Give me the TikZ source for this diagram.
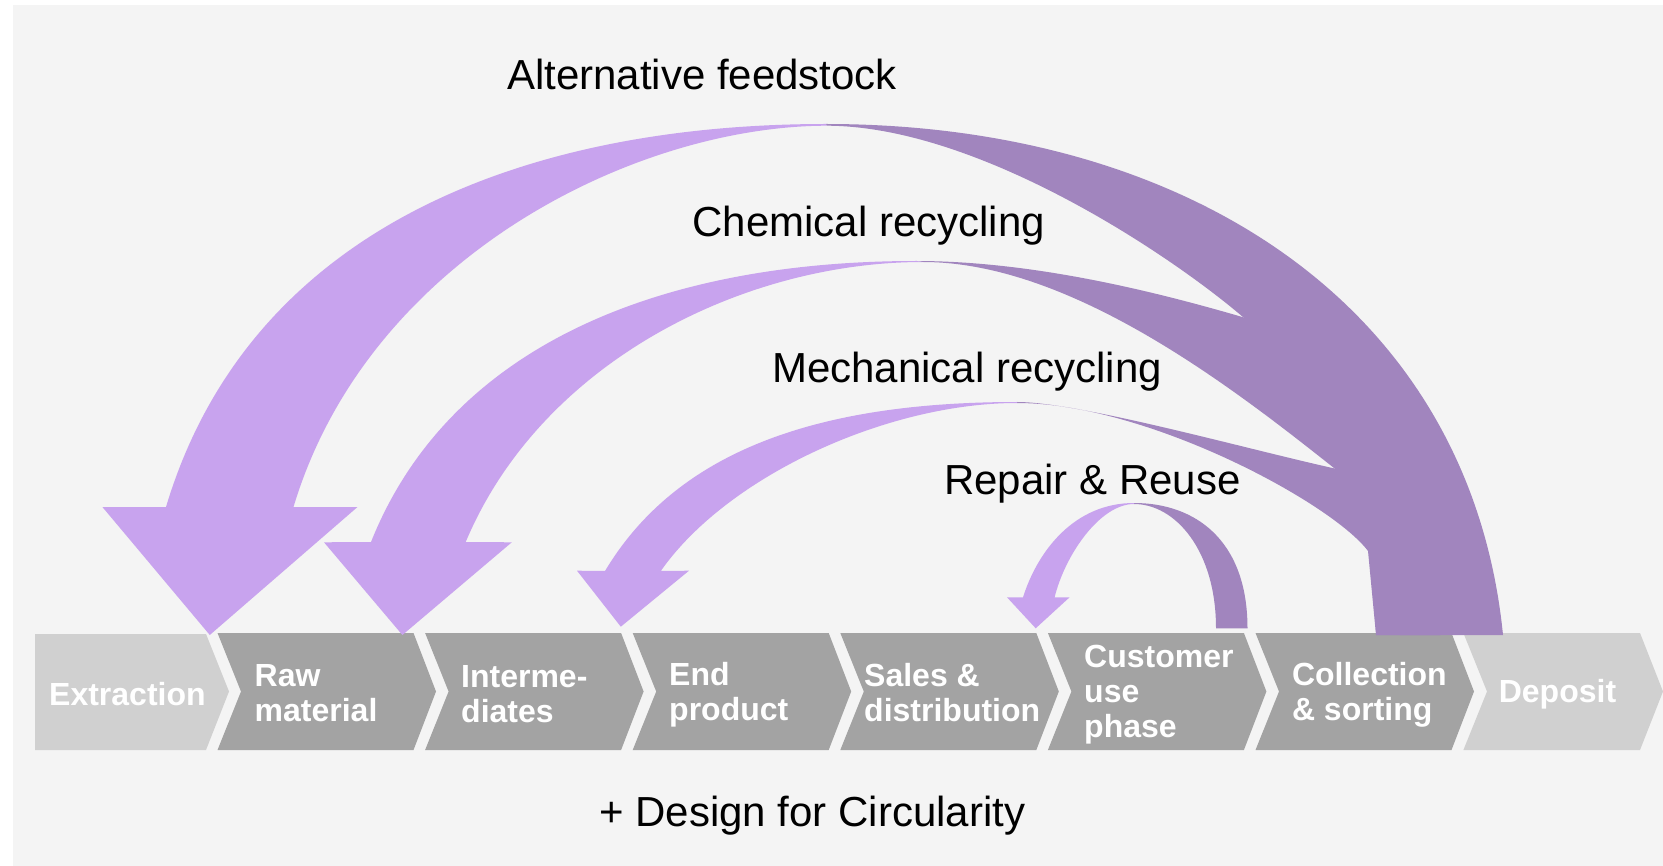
\documentclass[tikz,border=0pt]{standalone}
\usepackage{fontspec}
\setmainfont{Liberation Sans}
\definecolor{bgc}{RGB}{244,244,244}
\definecolor{chevmid}{RGB}{163,163,163}
\definecolor{chevlight}{RGB}{208,208,208}
\definecolor{lp}{RGB}{200,163,238}
\definecolor{dp}{RGB}{161,133,190}
\begin{document}
\begin{tikzpicture}[x=1pt,y=-1pt,
  lbl/.style={font=\fontsize{42}{48}\selectfont, text=black, inner sep=0pt, anchor=base},
  chevlbl/.style={font=\fontsize{32}{35}\selectfont\bfseries, text=white, align=left, anchor=west, inner sep=0pt},
  lighthalf/.style={fill=lp},
  darkhalf/.style={fill=dp},
  midchev/.style={fill=chevmid},
  endchev/.style={fill=chevlight}
]
\useasboundingbox (0,0) rectangle (1663,866);
\fill[white] (0,0) rectangle (1663,866);
\fill[bgc] (13,5) rectangle (1663,866);

% chevrons
\fill[endchev] (35,634) -- (206,634) -- (229,691.5) -- (206,750) -- (35,750) -- cycle;
\foreach \i in {0,...,5} {
  \pgfmathsetmacro\L{217.5+207.6*\i}
  \fill[midchev] (\L,633) -- ++(196,0) -- ++(22.5,58.5) -- ++(-22.5,58.5) -- ++(-196,0) -- ++(23.5,-58.5) -- cycle;
}
\fill[endchev] (1463.4,633) -- (1640,633) -- (1663,691.5) -- (1640,750) -- (1463.4,750) -- (1487,691.5) -- cycle;

\node[chevlbl] (ext) at (49,694) {Extraction};
\node[chevlbl] (raw) at (254.5,693) {Raw\\material};
\node[chevlbl] (int) at (461,694) {Interme-\\diates};
\node[chevlbl] (end) at (669,694.5) {End\\product};
\node[chevlbl] (sal) at (864,693) {Sales \&\\distribution};
\node[chevlbl] (cus) at (1084,695) {Customer\\use\\phase};
\node[chevlbl] (col) at (1291.8,694.5) {Collection\\\& sorting};
\node[chevlbl] (dep) at (1498.6,694.5) {Deposit};

% dark tails
\fill[darkhalf] (826,124) .. controls (1186,124) and (1470,305) .. (1503,635) -- (1376,635)
  .. controls (1376,480) and (1320,383) .. (1243.3,317.3)
  .. controls (1167.3,252.3) and (976.7,126) .. (826.7,125.7) -- cycle;
\fill[darkhalf] (916,261) .. controls (1030,261) and (1150,290) .. (1243.3,317.3) -- (1340,343) -- (1440,635) -- (1400,635) -- (1395,560) -- (1339,472)
  .. controls (1237.6,391.4) and (1073,262) .. (923,262) -- cycle;
\fill[darkhalf] (1017,402) .. controls (1080,402) and (1250,450) .. (1337,469) -- (1400,515) -- (1440,635) -- (1376,635) -- (1368,551)
  .. controls (1332,503) and (1147,403) .. (1017,403) -- cycle;
\fill[darkhalf] (1134,503) .. controls (1195,503) and (1247.5,540) .. (1247.5,628.3) -- (1216,628.3) .. controls (1216,550) and (1175,504) .. (1134,504) -- cycle;

% light heads
\fill[lighthalf] (826,124) .. controls (526,124) and (250,227) .. (166,507)
  -- (102.4,507) -- (209.8,635) -- (357.5,507) -- (293.5,507)
  .. controls (368.5,257) and (636,126) .. (826.7,125.7) -- cycle;
\fill[lighthalf] (916,261) .. controls (666,261) and (451,342) .. (371,542)
  -- (324,542.3) -- (402.4,635) -- (511.8,542.3) -- (465.7,542)
  .. controls (541.3,362) and (743,262) .. (923,262) -- cycle;
\fill[lighthalf] (1017,402) .. controls (817,402) and (677,451) .. (605,571)
  -- (577,570.7) -- (620.8,626.7) -- (689,570.7) -- (660.8,571)
  .. controls (727.3,476) and (887,403) .. (1017,403) -- cycle;
\fill[lighthalf] (1134,503) .. controls (1075,503) and (1038,550) .. (1023,597.3) -- (1007,597.3) -- (1035.7,628.3) -- (1069.6,597.3) -- (1054.6,597.3) .. controls (1065,555) and (1100,504) .. (1134,504) -- cycle;

% labels
\node[lbl] (alt) at (702,89.5) {Alternative feedstock};
\node[lbl] (chem) at (868.6,237) {Chemical recycling};
\node[lbl] (mech) at (967,383) {Mechanical recycling};
\node[lbl] (rep) at (1092.5,494.5) {Repair \& Reuse};
\node[lbl] (dfc) at (812.4,826) {+ Design for Circularity};
\end{tikzpicture}
\end{document}
